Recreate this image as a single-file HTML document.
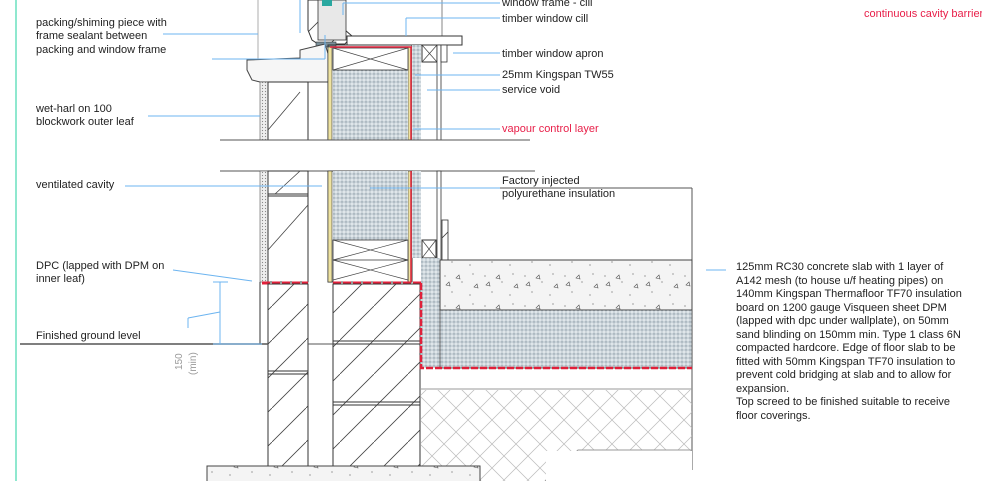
<!DOCTYPE html>
<html><head><meta charset="utf-8"><style>
html,body{margin:0;padding:0;background:#fff;}
svg{display:block;}
text{font-family:"Liberation Sans",sans-serif;font-size:11px;fill:#222;}
</style></head><body>
<svg width="982" height="481" viewBox="0 0 982 481" xmlns="http://www.w3.org/2000/svg">
<defs>
<pattern id="dots" width="4" height="4" patternUnits="userSpaceOnUse">
<rect width="4" height="4" fill="#dfe6ea"/><circle cx="2" cy="2" r="1.1" fill="none" stroke="#8a9aa5" stroke-width="0.6"/>
</pattern>
<pattern id="hatch" width="34" height="34" patternUnits="userSpaceOnUse" patternTransform="rotate(0)">
<line x1="0" y1="34" x2="34" y2="0" stroke="#444" stroke-width="0.8"/>
</pattern>
<pattern id="cross" width="24" height="24" patternUnits="userSpaceOnUse">
<line x1="0" y1="0" x2="24" y2="24" stroke="#bbb" stroke-width="0.7"/><line x1="24" y1="0" x2="0" y2="24" stroke="#bbb" stroke-width="0.7"/>
</pattern>
<pattern id="conc" width="40" height="30" patternUnits="userSpaceOnUse">
<rect width="40" height="30" fill="#f4f4f4"/>
<circle cx="5" cy="6" r="0.6" fill="#666"/><circle cx="22" cy="12" r="0.6" fill="#666"/><circle cx="33" cy="4" r="0.6" fill="#666"/><circle cx="12" cy="22" r="0.6" fill="#666"/><circle cx="30" cy="25" r="0.6" fill="#666"/>
<path d="M16 8 l3 -3 l1 4 z M34 17 l3 -3 l1 4 z M6 15 l3 -3 l1 4z" fill="none" stroke="#555" stroke-width="0.6"/>
</pattern>
<pattern id="harl" width="3" height="3" patternUnits="userSpaceOnUse"><rect width="3" height="3" fill="#eee"/><circle cx="1.5" cy="1.5" r="0.6" fill="#888"/></pattern>
</defs>

<!-- left green line -->
<line x1="16" y1="0" x2="16" y2="481" stroke="#8fe8cf" stroke-width="2"/>

<!-- thin verticals top -->
<line x1="258" y1="0" x2="258" y2="60" stroke="#999" stroke-width="0.8"/>
<line x1="442" y1="0" x2="442" y2="36" stroke="#666" stroke-width="0.8"/>

<!-- window frame -->
<path d="M308 0 L345 0 L345 30 L352 36 L345 44 L318 44 L312 40 L308 30 Z" fill="url(#hatch)" stroke="#333" stroke-width="1"/>
<rect x="318" y="0" width="28" height="40" fill="#e8e8e8" stroke="#333" stroke-width="0.8"/>
<rect x="322" y="0" width="10" height="6" fill="#2aa8a0"/>
<rect x="316" y="42" width="20" height="5" fill="#7a8f99" stroke="#333" stroke-width="0.6"/>
<!-- timber window cill -->
<rect x="347" y="36" width="115" height="9" fill="#fff" stroke="#333" stroke-width="1"/>
<!-- concrete sill -->
<path d="M247 60 L300 58 L300 50 L325 44 L330 60 L328 82 L300 82 L260 82 L252 80 L247 70 Z" fill="#f6f6f6" stroke="#444" stroke-width="1"/>

<!-- upper section -->
<rect x="260" y="82" width="8" height="58" fill="url(#harl)" stroke="#555" stroke-width="0.6"/>
<rect x="268" y="82" width="40" height="58" fill="#fff" stroke="#333"/>
<line x1="268" y1="130" x2="300" y2="92" stroke="#444" stroke-width="0.8"/>
<rect x="328" y="45" width="84" height="95" fill="none" stroke="#333"/>
<rect x="328" y="47" width="4" height="93" fill="#efe3a0" stroke="#333" stroke-width="0.6"/>
<rect x="408" y="47" width="4" height="93" fill="#efe3a0" stroke="#333" stroke-width="0.6"/>
<rect x="333" y="70" width="75" height="70" fill="url(#dots)"/>
<rect x="333" y="48" width="75" height="22" fill="#fff" stroke="#333" stroke-width="0.8"/>
<path d="M333 48 L408 70 M408 48 L333 70" stroke="#444" stroke-width="0.7"/>
<line x1="330" y1="47" x2="412" y2="47" stroke="#e0203a" stroke-width="1.5"/>
<line x1="411" y1="47" x2="411" y2="140" stroke="#e0203a" stroke-width="1.5"/>
<rect x="412" y="45" width="9" height="95" fill="url(#dots)"/>
<rect x="422" y="45" width="15" height="17" fill="#fff" stroke="#333"/>
<path d="M422 45 L437 62 M437 45 L422 62" stroke="#444" stroke-width="0.7"/>
<rect x="437" y="45" width="4" height="95" fill="#fff" stroke="#333" stroke-width="0.8"/>
<rect x="441" y="45" width="6" height="17" fill="#fff" stroke="#333" stroke-width="0.8"/>

<!-- break lines -->
<line x1="220" y1="140" x2="530" y2="140" stroke="#555"/>
<line x1="220" y1="171" x2="535" y2="171" stroke="#555"/>

<!-- lower section upper walls -->
<rect x="260" y="171" width="8" height="111" fill="url(#harl)" stroke="#555" stroke-width="0.6"/>
<rect x="268" y="171" width="40" height="111" fill="#fff" stroke="#333"/>
<line x1="268" y1="194" x2="308" y2="194" stroke="#333"/>
<line x1="268" y1="196" x2="308" y2="196" stroke="#333"/>
<line x1="275" y1="194" x2="300" y2="171" stroke="#444" stroke-width="0.8"/>
<line x1="268" y1="250" x2="308" y2="205" stroke="#444" stroke-width="0.8"/>
<rect x="328" y="171" width="84" height="111" fill="none" stroke="#333"/>
<rect x="328" y="171" width="4" height="111" fill="#efe3a0" stroke="#333" stroke-width="0.6"/>
<rect x="408" y="171" width="4" height="111" fill="#efe3a0" stroke="#333" stroke-width="0.6"/>
<rect x="333" y="171" width="75" height="69" fill="url(#dots)"/>
<rect x="333" y="240" width="75" height="42" fill="#fff" stroke="#333" stroke-width="0.8"/>
<path d="M333 240 L408 260 M408 240 L333 260 M333 260 L408 280 M408 260 L333 280" stroke="#444" stroke-width="0.7"/>
<line x1="333" y1="260" x2="408" y2="260" stroke="#333" stroke-width="0.8"/>
<line x1="411" y1="171" x2="411" y2="282" stroke="#e0203a" stroke-width="1.5"/>
<rect x="412" y="171" width="9" height="87" fill="url(#dots)"/>
<rect x="422" y="240" width="14" height="18" fill="#fff" stroke="#333"/>
<path d="M422 240 L436 258 M436 240 L422 258" stroke="#444" stroke-width="0.7"/>
<rect x="437" y="171" width="4" height="89" fill="#fff" stroke="#333" stroke-width="0.8"/>
<rect x="442" y="220" width="6" height="40" fill="url(#hatch)" stroke="#333" stroke-width="0.8"/>
<line x1="441" y1="188" x2="692" y2="188" stroke="#555"/>
<line x1="692" y1="188" x2="692" y2="470" stroke="#555"/>

<!-- DPC -->
<line x1="262" y1="283" x2="308" y2="283" stroke="#e0203a" stroke-width="3" stroke-dasharray="8,2"/>
<line x1="333" y1="283" x2="421" y2="283" stroke="#e0203a" stroke-width="3" stroke-dasharray="8,2"/>

<!-- lower blockwork -->
<rect x="268" y="284" width="40" height="183" fill="url(#hatch)" stroke="#333"/>
<line x1="268" y1="371" x2="308" y2="371" stroke="#333"/><line x1="268" y1="374" x2="308" y2="374" stroke="#333"/>
<rect x="333" y="284" width="87" height="183" fill="url(#hatch)" stroke="#333"/>
<line x1="333" y1="341" x2="420" y2="341" stroke="#333"/><line x1="333" y1="344" x2="420" y2="344" stroke="#333"/>
<line x1="333" y1="402" x2="420" y2="402" stroke="#333"/><line x1="333" y1="405" x2="420" y2="405" stroke="#333"/>
<line x1="260" y1="282" x2="260" y2="344" stroke="#333"/>

<!-- ground -->
<line x1="20" y1="344" x2="268" y2="344" stroke="#555" stroke-width="1.5"/>
<line x1="308" y1="344" x2="333" y2="344" stroke="#555"/>

<!-- edge insulation and slab -->
<rect x="421" y="258" width="19" height="110" fill="url(#dots)"/>
<rect x="440" y="260" width="252" height="50" fill="url(#conc)" stroke="#444"/>
<rect x="440" y="310" width="252" height="58" fill="url(#dots)" stroke="#444" stroke-width="0.8"/>
<path d="M421 283 L421 368 L692 368" fill="none" stroke="#e0203a" stroke-width="2.5" stroke-dasharray="7,2"/>
<line x1="421" y1="389" x2="692" y2="389" stroke="#999"/>
<rect x="421" y="390" width="271" height="91" fill="url(#cross)"/>
<path d="M545 481 L578 450 L692 450" fill="#fff" stroke="#999"/>
<rect x="546" y="451" width="146" height="30" fill="#fff"/>

<!-- foundation -->
<rect x="207" y="466" width="273" height="20" fill="url(#conc)" stroke="#444"/>

<!-- leaders -->
<g stroke="#6cb4f0" stroke-width="1" fill="none">
<line x1="163" y1="34" x2="258" y2="34"/>
<line x1="212" y1="59" x2="325" y2="59"/><line x1="325" y1="59" x2="325" y2="35"/>
<line x1="148" y1="116" x2="260" y2="116"/>
<line x1="125" y1="186" x2="322" y2="186"/>
<line x1="173" y1="270" x2="252" y2="281"/>
<line x1="188" y1="328" x2="188" y2="318"/><line x1="188" y1="318" x2="220" y2="312"/>
<line x1="220" y1="282" x2="220" y2="344"/>
<line x1="213" y1="282" x2="228" y2="282"/><line x1="213" y1="344" x2="262" y2="344"/>
<line x1="300" y1="33" x2="300" y2="0"/>
<line x1="343" y1="3" x2="500" y2="3"/><line x1="343" y1="3" x2="343" y2="15"/>
<line x1="406" y1="18" x2="500" y2="18"/><line x1="406" y1="18" x2="406" y2="36"/>
<line x1="453" y1="53" x2="500" y2="53"/>
<line x1="415" y1="75" x2="500" y2="75"/>
<line x1="427" y1="90" x2="500" y2="90"/>
<line x1="413" y1="129" x2="500" y2="129"/>
<line x1="370" y1="188" x2="500" y2="188"/>
<line x1="706" y1="270" x2="726" y2="270"/>
</g>

<!-- labels -->
<text x="36" y="26">packing/shiming piece with</text>
<text x="36" y="39">frame sealant between</text>
<text x="36" y="53">packing and window frame</text>
<text x="36" y="112">wet-harl on 100</text>
<text x="36" y="125">blockwork outer leaf</text>
<text x="36" y="188">ventilated cavity</text>
<text x="36" y="269">DPC (lapped with DPM on</text>
<text x="36" y="282">inner leaf)</text>
<text x="36" y="339">Finished ground level</text>
<text transform="translate(182,370) rotate(-90)" style="fill:#999;font-size:10px">150</text>
<text transform="translate(196,375) rotate(-90)" style="fill:#999;font-size:10px">(min)</text>
<text x="502" y="6">window frame - cill</text>
<text x="502" y="22">timber window cill</text>
<text x="502" y="57">timber window apron</text>
<text x="502" y="78">25mm Kingspan TW55</text>
<text x="502" y="93">service void</text>
<text x="502" y="132" style="fill:#e8204a">vapour control layer</text>
<text x="502" y="184">Factory injected</text>
<text x="502" y="197">polyurethane insulation</text>
<text x="864" y="17" style="fill:#e8204a">continuous cavity barrier</text>
<g style="font-size:11.2px">
<text x="736" y="270">125mm RC30 concrete slab with 1 layer of</text>
<text x="736" y="284">A142 mesh  (to house u/f heating pipes) on</text>
<text x="736" y="297">140mm Kingspan Thermafloor TF70 insulation</text>
<text x="736" y="311">board on 1200 gauge Visqueen sheet DPM</text>
<text x="736" y="324">(lapped with dpc under wallplate), on 50mm</text>
<text x="736" y="338">sand blinding on 150mm min. Type 1  class 6N</text>
<text x="736" y="351">compacted hardcore.  Edge of floor slab to be</text>
<text x="736" y="365">fitted with 50mm Kingspan TF70 insulation to</text>
<text x="736" y="378">prevent cold bridging at slab and to allow for</text>
<text x="736" y="392">expansion.</text>
<text x="736" y="405">Top screed to be finished suitable to receive</text>
<text x="736" y="419">floor coverings.</text>
</g>
</svg>
</body></html>
